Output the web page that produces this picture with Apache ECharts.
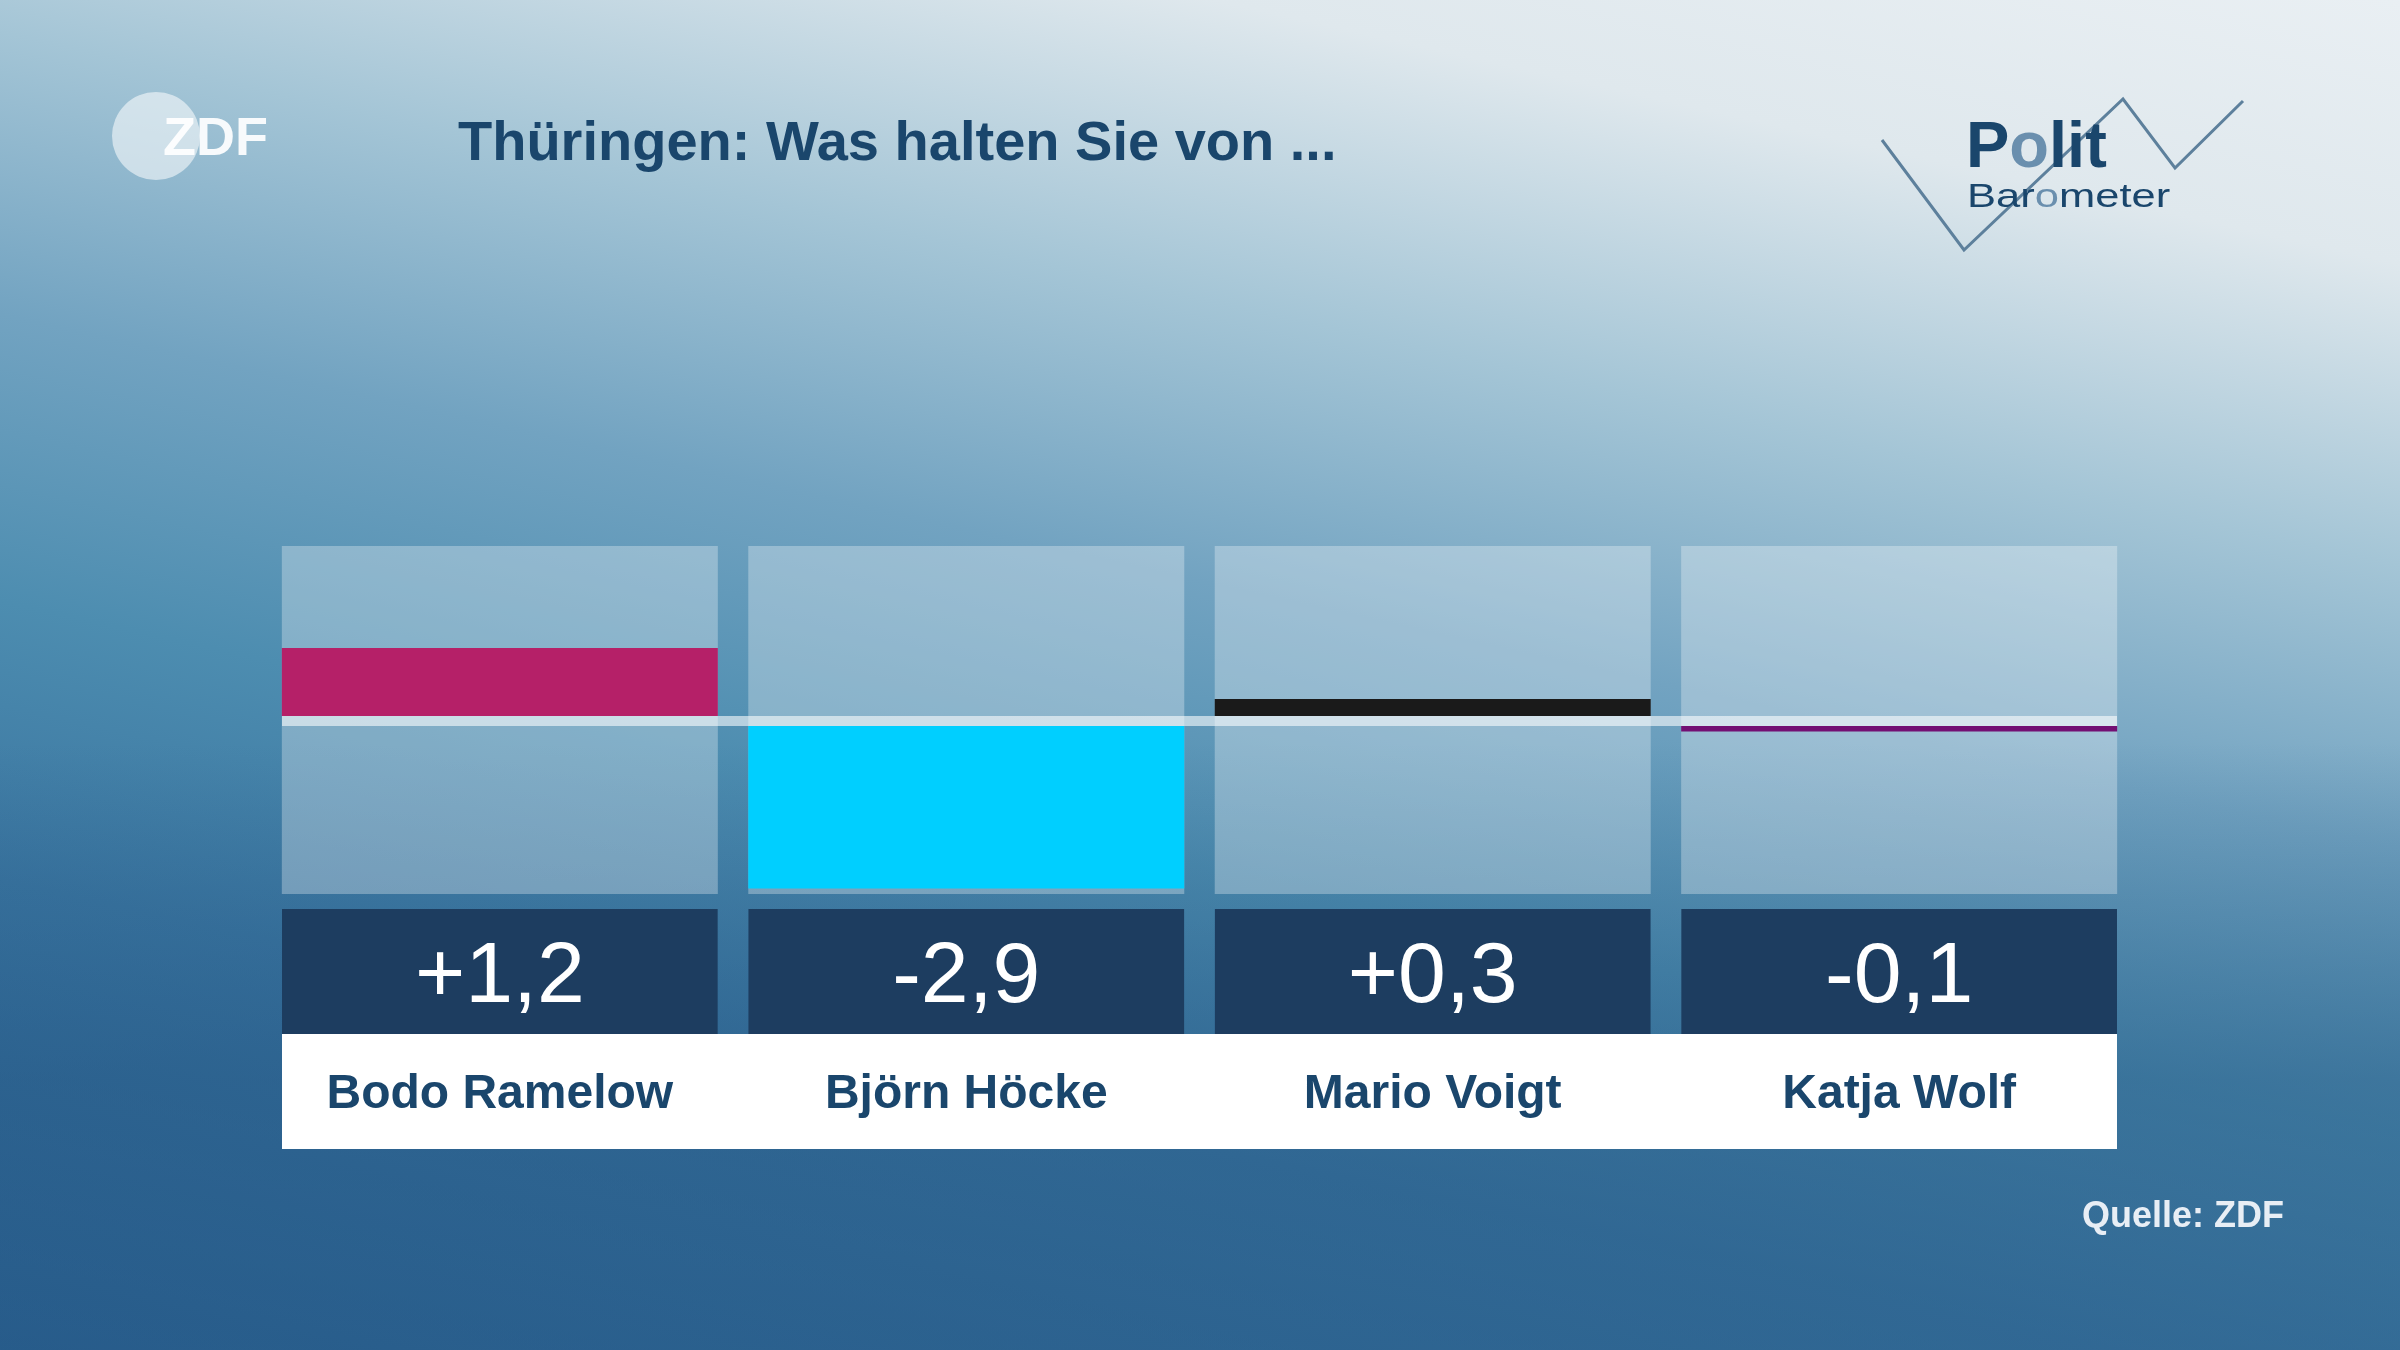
<!DOCTYPE html>
<html><head><meta charset="utf-8">
<script src="https://cdn.jsdelivr.net/npm/echarts@6/dist/echarts.min.js"></script>
<style>html,body{margin:0;padding:0;background:#fff}#c{width:2400px;height:1350px}</style>
</head><body><div id="c"></div>
<script>
const titleText = 'Thüringen: Was halten Sie von ...';
const names = ['Bodo Ramelow', 'Björn Höcke', 'Mario Voigt', 'Katja Wolf'];
const values = [1.2, -2.9, 0.3, -0.1];
const barColors = ['#b52068', '#00cfff', '#1a1a1a', '#730f73'];
const sourceText = 'Quelle: ZDF';

const chart = echarts.init(document.getElementById('c'), null, {renderer: 'canvas'});
const HALF = 0.467;
const XMIN = -HALF, XMAX = values.length - 1 + HALF;
const fmt = v => (v > 0 ? '+' : v < 0 ? '-' : '') + Math.abs(v).toFixed(1).replace('.', ',');
const FONT = "'Liberation Sans', Arial, sans-serif";
const NAVY = '#1a466c';
const gb = {left: 282, right: 283};
const grids = [
  Object.assign({}, gb, {top: 546, height: 170}),
  Object.assign({}, gb, {top: 716, height: 10, show: true, backgroundColor: 'rgba(255,255,255,0.58)', borderWidth: 0}),
  Object.assign({}, gb, {top: 726, height: 168}),
  Object.assign({}, gb, {top: 909, height: 125}),
  Object.assign({}, gb, {top: 1034, height: 115, show: true, backgroundColor: '#ffffff', borderWidth: 0})
];
const xAxes = grids.map((g, i) => ({type: 'value', gridIndex: i, min: XMIN, max: XMAX, show: false}));
const yAxes = [
  {type: 'value', gridIndex: 0, min: 0, max: 3, show: false},
  {type: 'value', gridIndex: 1, min: 0, max: 1, show: false},
  {type: 'value', gridIndex: 2, min: -3, max: 0, show: false},
  {type: 'value', gridIndex: 3, min: 0, max: 1, show: false},
  {type: 'value', gridIndex: 4, min: 0, max: 1, show: false}
];
const panelBg = {color: 'rgba(255,255,255,0.3)'};
const barItem = {color: p => barColors[p.dataIndex]};

const bg = new echarts.graphic.LinearGradient(2400, 0, 2001, 1795, [
  {offset: 0, color: '#e9eff3'},
  {offset: 0.14, color: '#dfe8ed'},
  {offset: 0.3, color: '#a4c5d6'},
  {offset: 0.45, color: '#72a3c1'},
  {offset: 0.602, color: '#4d8db0'},
  {offset: 0.75, color: '#3a75a0'},
  {offset: 1, color: '#2a6090'}
], true);
const bottomShade = new echarts.graphic.LinearGradient(0, 0, 0, 1, [
  {offset: 0, color: 'rgba(35,85,130,0)'},
  {offset: 0.55, color: 'rgba(35,85,130,0)'},
  {offset: 0.8, color: 'rgba(35,85,130,0.45)'},
  {offset: 1, color: 'rgba(35,85,130,0.4)'}
]);

chart.setOption({
  animation: false,
  backgroundColor: bg,
  grid: grids,
  xAxis: xAxes,
  yAxis: yAxes,
  series: [
    {type: 'bar', xAxisIndex: 0, yAxisIndex: 0, barWidth: 436, showBackground: true, backgroundStyle: panelBg,
      data: values.map((v, i) => [i, Math.max(v, 0)]), itemStyle: barItem, silent: true},
    {type: 'bar', xAxisIndex: 1, yAxisIndex: 1, barWidth: 436, showBackground: true, backgroundStyle: panelBg,
      data: values.map((v, i) => [i, 0]), itemStyle: {color: 'rgba(0,0,0,0)'}, silent: true},
    {type: 'bar', xAxisIndex: 2, yAxisIndex: 2, barWidth: 436, showBackground: true, backgroundStyle: panelBg,
      data: values.map((v, i) => [i, Math.min(v, 0)]), itemStyle: barItem, silent: true},
    {type: 'custom', xAxisIndex: 3, yAxisIndex: 3, silent: true,
      data: values.map((v, i) => [i, v]),
      renderItem: (params, api) => {
        const i = api.value(0);
        const p0 = api.coord([i - HALF, 0]);
        const p1 = api.coord([i + HALF, 1]);
        return {type: 'group', children: [
          {type: 'rect', shape: {x: p0[0], y: p1[1], width: p1[0] - p0[0], height: p0[1] - p1[1]}, style: {fill: '#1d3d60'}},
          {type: 'text', x: (p0[0] + p1[0]) / 2, y: (p0[1] + p1[1]) / 2 + 7,
            style: {text: fmt(api.value(1)), fill: '#ffffff', fontSize: 86, fontFamily: FONT, align: 'center', verticalAlign: 'middle'}}
        ]};
      }},
    {type: 'custom', xAxisIndex: 4, yAxisIndex: 4, silent: true,
      data: names.map((n, i) => [i, 0.5]),
      renderItem: (params, api) => {
        const i = api.value(0);
        const p = api.coord([i, api.value(1)]);
        return {type: 'text', x: p[0], y: p[1] + 3,
          style: {text: names[params.dataIndex], fill: NAVY, fontSize: 48, fontWeight: 'bold', fontFamily: FONT, align: 'center', verticalAlign: 'middle'}};
      }}
  ],
  graphic: [
    {type: 'rect', z: -10, silent: true, shape: {x: 0, y: 0, width: 2400, height: 1350}, style: {fill: bottomShade}},
    {type: 'circle', shape: {cx: 156, cy: 136, r: 44}, style: {fill: 'rgba(255,255,255,0.55)'}},
    {type: 'text', x: 163, y: 140, style: {text: 'ZDF', fill: 'rgba(255,255,255,0.92)', fontSize: 54, fontWeight: 'bold', fontFamily: FONT, align: 'left', verticalAlign: 'middle'}},
    {type: 'text', x: 458, y: 145, style: {text: titleText, fill: NAVY, fontSize: 56, fontWeight: 'bold', fontFamily: FONT, align: 'left', verticalAlign: 'middle'}},
    {type: 'polyline', shape: {points: [[1882, 140], [1964, 250], [2123, 99], [2175, 168], [2243, 101]]}, style: {stroke: '#5d809c', lineWidth: 3, fill: null}},
    {type: 'text', x: 1966, y: 149, style: {text: '{a|P}{b|o}{a|lit}', fontSize: 65, fontWeight: 'bold', fontFamily: FONT, align: 'left', verticalAlign: 'middle',
      rich: {a: {fill: NAVY, fontSize: 65, fontWeight: 'bold', fontFamily: FONT}, b: {fill: '#6a8fae', fontSize: 65, fontWeight: 'bold', fontFamily: FONT}}}},
    {type: 'text', x: 1967, y: 198, scaleX: 1.28, style: {text: '{a|Bar}{b|o}{a|meter}', fontSize: 34, fontFamily: FONT, align: 'left', verticalAlign: 'middle',
      rich: {a: {fill: NAVY, fontSize: 34, fontFamily: FONT}, b: {fill: '#6a8fae', fontSize: 34, fontFamily: FONT}}}},
    {type: 'text', x: 2082, y: 1217, style: {text: sourceText, fill: '#e8eef5', fontSize: 36, fontWeight: 'bold', fontFamily: FONT, align: 'left', verticalAlign: 'middle'}}
  ]
});
</script>
</body></html>
